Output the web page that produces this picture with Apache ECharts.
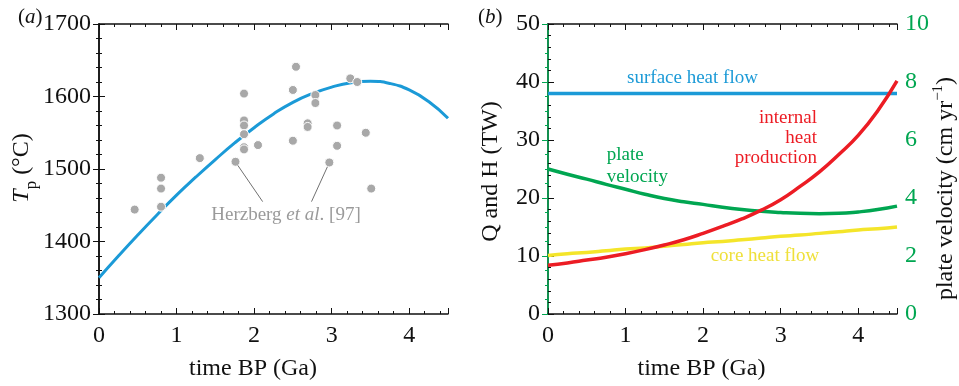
<!DOCTYPE html>
<html>
<head>
<meta charset="utf-8">
<script src="https://cdn.jsdelivr.net/npm/echarts@6/dist/echarts.min.js"></script>
<style>
  html, body { margin: 0; background: #fff; }
  #chart { width: 959px; height: 386px; }
</style>
</head>
<body>
<div id="chart"></div>
<script>
// (a) mantle potential temperature, Herzberg et al. [97] points + model curve
const herzbergPoints = [
  [0.46, 1444], [0.80, 1488], [0.80, 1473], [0.80, 1448], [1.30, 1515],
  [1.76, 1510], [1.87, 1604], [1.87, 1567], [1.87, 1560], [1.87, 1548],
  [1.87, 1530], [1.87, 1527], [2.05, 1533], [2.50, 1609], [2.54, 1641],
  [2.50, 1539], [2.79, 1602], [2.79, 1591], [2.69, 1563], [2.69, 1558],
  [2.97, 1509], [3.07, 1560], [3.07, 1532], [3.24, 1625], [3.33, 1620],
  [3.44, 1550], [3.51, 1473]
];
const modelTime = [0, 0.25, 0.5, 0.75, 1, 1.25, 1.5, 1.75, 2, 2.25, 2.5, 2.75, 3, 3.25, 3.5, 3.75, 4, 4.25, 4.5];
const modelTp = [1350, 1380, 1409, 1437, 1464, 1489, 1513, 1536, 1557, 1576, 1592, 1604, 1613, 1619, 1621, 1618, 1609, 1593, 1570];

// (b) heat budget and plate velocity
const heatTime = [0, 0.25, 0.5, 0.75, 1, 1.25, 1.5, 1.75, 2, 2.25, 2.5, 2.75, 3, 3.25, 3.5, 3.75, 4, 4.25, 4.5];
const surfaceHeatFlow = [38, 38, 38, 38, 38, 38, 38, 38, 38, 38, 38, 38, 38, 38, 38, 38, 38, 38, 38];
const internalHeat = [8.4, 8.8, 9.3, 9.8, 10.4, 11.1, 11.9, 12.8, 13.9, 15.1, 16.4, 17.9, 19.7, 22.0, 24.5, 27.5, 30.8, 35.0, 40.2];
const coreHeatFlow = [10.1, 10.4, 10.6, 10.9, 11.2, 11.4, 11.7, 12.0, 12.3, 12.5, 12.8, 13.1, 13.4, 13.6, 13.9, 14.2, 14.5, 14.7, 15.0];
const plateVelocity = [5.0, 4.82, 4.65, 4.47, 4.3, 4.13, 3.98, 3.87, 3.78, 3.68, 3.6, 3.54, 3.5, 3.47, 3.46, 3.47, 3.52, 3.6, 3.72];

const serif = "'Liberation Serif', 'DejaVu Serif', serif";
const ink = '#111';
const blue = '#1b9ad7';
const red = '#ec1c24';
const green = '#00a651';
const yellow = '#f4e52a';

const zip = (xs, ys) => xs.map((x, i) => [x, ys[i]]);
const isWhole = v => Math.abs(v - Math.round(v)) < 1e-6;

// time axis: one axis carries minor ticks and labels, a second one the longer major ticks
const timeAxes = (gridIndex, position, showLabel) => [
  {
    type: 'value', gridIndex, position, min: 0, max: 4.5, interval: 0.2,
    axisLine: { lineStyle: { color: ink, width: 1.5 } },
    axisTick: { inside: true, length: 3, lineStyle: { color: ink, width: 1 } },
    axisLabel: {
      show: showLabel, margin: 10, color: ink, fontFamily: serif, fontSize: 24,
      formatter: v => (isWhole(v) ? String(Math.round(v)) : '')
    },
    splitLine: { show: false }
  },
  {
    type: 'value', gridIndex, position, min: 0, max: 4.5, interval: 1,
    axisLine: { show: false },
    axisTick: { inside: true, length: 6, lineStyle: { color: ink, width: 1 } },
    axisLabel: { show: false },
    splitLine: { show: false }
  }
];

const valueAxis = (gridIndex, position, min, max, interval, minorSplit, showLabel, color) => ({
  type: 'value', gridIndex, position, min, max, interval,
  axisLine: { show: true, lineStyle: { color, width: 1.5 } },
  axisTick: { show: true, inside: true, length: 6, lineStyle: { color, width: 1 } },
  minorTick: { show: true, splitNumber: minorSplit, length: 3, lineStyle: { color, width: 1 } },
  axisLabel: { show: showLabel, margin: 8, color, fontFamily: serif, fontSize: 24, formatter: v => String(v) },
  splitLine: { show: false }
});

const txt = (x, y, text, opts = {}) => ({
  type: 'text', x, y, rotation: opts.rotation || 0, silent: true,
  style: Object.assign({
    text, fill: ink, font: `${opts.size || 19}px ${serif}`,
    textAlign: 'center', textVerticalAlign: 'middle'
  }, opts.style || {})
});

const chart = echarts.init(document.getElementById('chart'));
window.addEventListener('resize', () => chart.resize());

chart.setOption({
  animation: false,
  grid: [
    { left: 99, top: 24, width: 349, height: 290 },
    { left: 548, top: 24, width: 349, height: 290 }
  ],
  xAxis: [
    ...timeAxes(0, 'bottom', true),
    ...timeAxes(0, 'top', false),
    ...timeAxes(1, 'bottom', true),
    ...timeAxes(1, 'top', false)
  ],
  yAxis: [
    valueAxis(0, 'left', 1300, 1700, 100, 5, true, ink),
    valueAxis(0, 'right', 1300, 1700, 100, 5, false, ink),
    valueAxis(1, 'left', 0, 50, 10, 5, true, ink),
    valueAxis(1, 'right', 0, 10, 2, 4, true, green)
  ],
  series: [
    {
      type: 'line', xAxisIndex: 0, yAxisIndex: 0, data: zip(modelTime, modelTp),
      smooth: true, showSymbol: false, lineStyle: { color: blue, width: 3 }, z: 2
    },
    {
      type: 'scatter', xAxisIndex: 0, yAxisIndex: 0, data: herzbergPoints, symbolSize: 9,
      itemStyle: { color: '#a8a8a8', borderColor: '#fff', borderWidth: 1, opacity: 1 }, z: 3,
      markLine: {
        silent: true, symbol: 'none', label: { show: false },
        lineStyle: { color: '#707070', width: 1, type: 'solid' },
        data: [
          [{ coord: [1.79, 1505] }, { coord: [2.11, 1455] }],
          [{ coord: [2.945, 1503] }, { coord: [2.74, 1455] }]
        ]
      }
    },
    {
      type: 'line', xAxisIndex: 4, yAxisIndex: 2, data: zip(heatTime, surfaceHeatFlow),
      showSymbol: false, lineStyle: { color: blue, width: 3.5 }, z: 2
    },
    {
      type: 'line', xAxisIndex: 4, yAxisIndex: 2, data: zip(heatTime, coreHeatFlow),
      smooth: true, showSymbol: false, lineStyle: { color: yellow, width: 3.5 }, z: 2
    },
    {
      type: 'line', xAxisIndex: 4, yAxisIndex: 3, data: zip(heatTime, plateVelocity),
      smooth: true, showSymbol: false, lineStyle: { color: green, width: 3.5 }, z: 3
    },
    {
      type: 'line', xAxisIndex: 4, yAxisIndex: 2, data: zip(heatTime, internalHeat),
      smooth: true, showSymbol: false, lineStyle: { color: red, width: 3.5 }, z: 4
    }
  ],
  graphic: [
    txt(18, 17, '({i|a})', { size: 21, style: { textAlign: 'left', rich: { i: { fontStyle: 'italic', fontFamily: serif, fontSize: 21 } } } }),
    txt(478, 17, '({i|b})', { size: 21, style: { textAlign: 'left', rich: { i: { fontStyle: 'italic', fontFamily: serif, fontSize: 21 } } } }),
    txt(253, 369, 'time BP (Ga)', { size: 24 }),
    txt(701.5, 369, 'time BP (Ga)', { size: 24 }),
    txt(25, 168, '{t|T}{s|p}{n| (°C)}', {
      size: 24, rotation: Math.PI / 2,
      style: {
        rich: {
          t: { fontFamily: serif, fontSize: 24, fontStyle: 'italic', lineHeight: 24, verticalAlign: 'top' },
          s: { fontFamily: serif, fontSize: 17, lineHeight: 30, verticalAlign: 'bottom' },
          n: { fontFamily: serif, fontSize: 24, lineHeight: 24, verticalAlign: 'top' }
        }
      }
    }),
    txt(491, 171.5, '{q|Q}{n| and }{h|H}{n| (TW)}', {
      size: 24, rotation: Math.PI / 2,
      style: {
        rich: {
          q: { fontFamily: serif, fontSize: 24, color: blue },
          h: { fontFamily: serif, fontSize: 24, color: red },
          n: { fontFamily: serif, fontSize: 24, color: ink }
        }
      }
    }),
    txt(944, 188.5, '{n|plate velocity (cm yr}{s|−1}{n|)}', {
      size: 24, rotation: Math.PI / 2,
      style: {
        rich: {
          n: { fontFamily: serif, fontSize: 24, color: green, lineHeight: 27, verticalAlign: 'bottom' },
          s: { fontFamily: serif, fontSize: 15, color: green, lineHeight: 16, verticalAlign: 'top' }
        }
      }
    }),
    txt(286, 215, '{n|Herzberg }{i|et al}{n|. [97]}', {
      style: {
        fill: '#9a9a9a',
        rich: {
          n: { fontFamily: serif, fontSize: 19, color: '#9a9a9a' },
          i: { fontFamily: serif, fontSize: 19, color: '#9a9a9a', fontStyle: 'italic' }
        }
      }
    }),
    txt(692.5, 78, 'surface heat flow', { style: { fill: blue } }),
    txt(817, 138, 'internal\nheat\nproduction', { style: { fill: red, textAlign: 'right', lineHeight: 20 } }),
    txt(606.7, 166, 'plate\nvelocity', { style: { fill: green, textAlign: 'left', lineHeight: 21.5 } }),
    txt(765, 256, 'core heat flow', { style: { fill: '#efe03a' } })
  ]
});
</script>
</body>
</html>
